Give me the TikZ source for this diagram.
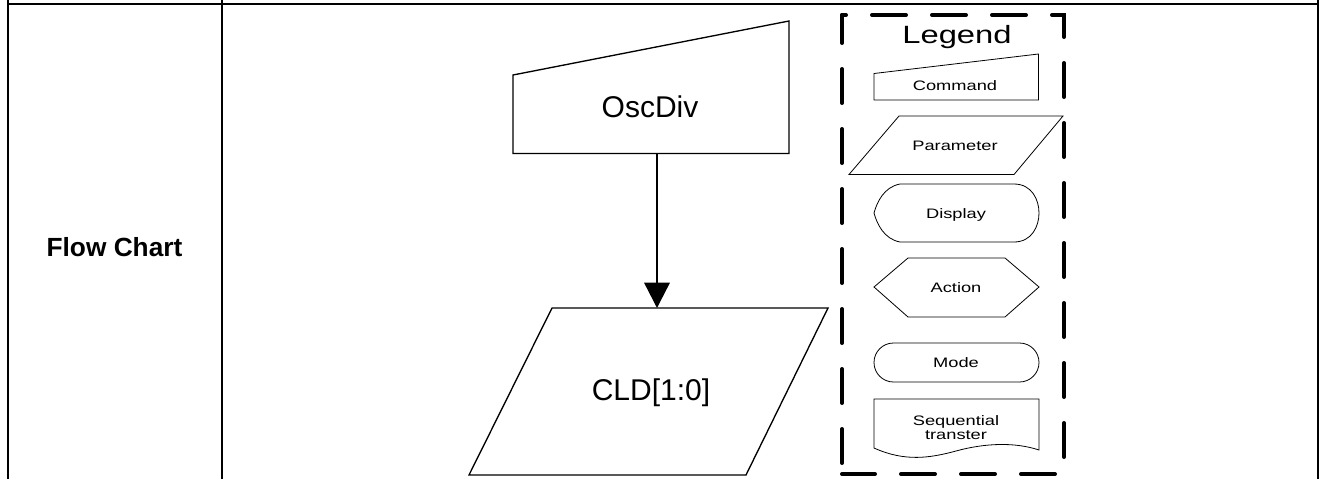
\documentclass[tikz,border=0pt]{standalone}
\usepackage{fontspec}
\usepackage{graphicx}
\setmainfont{Liberation Sans}
\usetikzlibrary{arrows.meta}
\newcommand{\lgs}[1]{\scalebox{1.33}[1]{#1}}
\tikzset{
  tbl/.style={line width=1.5pt},
  mainshape/.style={draw, line width=1pt},
  legshape/.style={draw, line width=0.6pt},
  legdash/.style={line width=3pt, line cap=round, dash pattern=on 25.5pt off 19.5pt},
  flowarrow/.style={line width=1.8pt, -{Triangle[length=19pt,width=19pt]}},
  maintext/.style={font=\fontsize{22.5}{27}\selectfont, inner sep=0pt},
  legtext/.style={inner sep=0pt, anchor=base, font=\fontsize{10.3}{12}\selectfont},
}
\begin{document}
\begin{tikzpicture}[x=0.75pt,y=-0.75pt]
\useasboundingbox (0,0) rectangle (1321,479);
% table
\draw[tbl] (7.5,0) -- (7.5,479);
\draw[tbl] (221.5,0) -- (221.5,479);
\draw[tbl] (1318,0) -- (1318,479);
\draw[tbl] (7.5,4) -- (1318,4);
\node[inner sep=0pt, font=\bfseries\fontsize{19.7}{24}\selectfont] (flow) at (114.5,247) {Flow Chart};
% OscDiv command shape
\draw[mainshape] (513,153.5) -- (513,75) -- (789,21) -- (789,153.5) -- cycle;
\node[maintext] (osc) at (650,107) {OscDiv};
% CLD parameter shape
\draw[mainshape] (552,308) -- (828,308) -- (746,475) -- (469,475) -- cycle;
\node[maintext] (cld) at (651,393) {CLD[1:0]};
\coordinate (oscB) at (657,153.5);
\coordinate (cldT) at (657,308);
\draw[flowarrow] (oscB) -- (cldT);
% legend frame
\draw[legdash, dash phase=22.5pt] (842,15) -- (1064,15) -- (1064,474) -- (842,474);
\draw[legdash, dash phase=36.75pt] (842,474) -- (842,15);
\node[inner sep=0pt, anchor=base, font=\fontsize{18.75}{22}\selectfont] (legt) at (957,43) {\scalebox{1.31}[1]{Legend}};
% Command
\draw[legshape] (874,100) -- (874,73.5) -- (1038.5,54) -- (1038.5,100) -- cycle;
\node[legtext] (lcmd) at (955,90.5) {\lgs{Command}};
% Parameter
\draw[legshape] (899,116) -- (1063,116) -- (1014,174.5) -- (849,174.5) -- cycle;
\node[legtext] (lpar) at (955,150) {\lgs{Parameter}};
% Display
\draw[legshape] (900,184) -- (1014,184) .. controls (1032,184) and (1039,200) .. (1039,213)
  .. controls (1039,226) and (1032,242) .. (1014,242) -- (900,242)
  .. controls (884,239) and (877,224) .. (874,213)
  .. controls (877,202) and (884,187) .. (900,184) -- cycle;
\node[legtext] (ldis) at (956,218) {\lgs{Display}};
% Action
\draw[legshape] (874,287) -- (908,258) -- (1005,258) -- (1039,287) -- (1005,317) -- (908,317) -- cycle;
\node[legtext] (lact) at (956,292) {\lgs{Action}};
% Mode
\draw[legshape, rounded corners=14.6pt] (874,343) rectangle (1039,382);
\node[legtext] (lmod) at (956,367) {\lgs{Mode}};
% Sequential transfer
\draw[legshape] (874,448) -- (874,399) -- (1039,399) -- (1039,450)
  .. controls (1015,442) and (985,443) .. (956,451)
  .. controls (930,458) and (905,462) .. (874,448) -- cycle;
\node[legtext] (lseq1) at (956,425) {\lgs{Sequential}};
\node[legtext] (lseq2) at (956,439.5) {\lgs{transter}};
\end{tikzpicture}
\end{document}
